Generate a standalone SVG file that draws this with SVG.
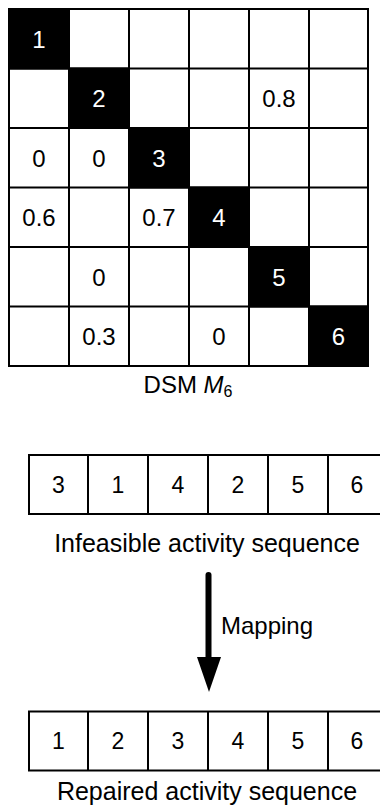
<svg xmlns="http://www.w3.org/2000/svg" width="380" height="807" viewBox="0 0 380 807">
  <style>
    text { font-family: "Liberation Sans", Arial, sans-serif; fill: #000; }
    .cell { fill: #fff; stroke: #000; stroke-width: 2; }
    .diag { fill: #000; stroke: #000; stroke-width: 2; }
    .num { font-size: 24px; text-anchor: middle; }
    .inv { fill: #fff; }
    .seq { font-size: 23px; text-anchor: middle; }
    .label { font-size: 25px; text-anchor: middle; }
  </style>
  <rect width="380" height="807" fill="#fff"/>

  <!-- DSM matrix -->
  <g id="dsm">
    <rect class="cell" x="9" y="9" width="359" height="357"/>
    <g stroke="#000" stroke-width="2">
      <line x1="69" y1="9" x2="69" y2="366"/>
      <line x1="129" y1="9" x2="129" y2="366"/>
      <line x1="189" y1="9" x2="189" y2="366"/>
      <line x1="249" y1="9" x2="249" y2="366"/>
      <line x1="309" y1="9" x2="309" y2="366"/>
      <line x1="9" y1="68.5" x2="368" y2="68.5"/>
      <line x1="9" y1="128" x2="368" y2="128"/>
      <line x1="9" y1="187.5" x2="368" y2="187.5"/>
      <line x1="9" y1="247" x2="368" y2="247"/>
      <line x1="9" y1="306.5" x2="368" y2="306.5"/>
    </g>
    <rect class="diag" x="9" y="9" width="60" height="59.5"/>
    <rect class="diag" x="69" y="68.5" width="60" height="59.5"/>
    <rect class="diag" x="129" y="128" width="60" height="59.5"/>
    <rect class="diag" x="189" y="187.5" width="60" height="59.5"/>
    <rect class="diag" x="249" y="247" width="60" height="59.5"/>
    <rect class="diag" x="309" y="306.5" width="59" height="59.5"/>
    <text class="num inv" x="39" y="47.5">1</text>
    <text class="num inv" x="99" y="107">2</text>
    <text class="num inv" x="159" y="166.5">3</text>
    <text class="num inv" x="219" y="226">4</text>
    <text class="num inv" x="279" y="285.5">5</text>
    <text class="num inv" x="338.5" y="345">6</text>
    <text class="num" x="279" y="107">0.8</text>
    <text class="num" x="39" y="166.5">0</text>
    <text class="num" x="99" y="166.5">0</text>
    <text class="num" x="39" y="226">0.6</text>
    <text class="num" x="159" y="226">0.7</text>
    <text class="num" x="99" y="285.5">0</text>
    <text class="num" x="99" y="345">0.3</text>
    <text class="num" x="219" y="345">0</text>
    <text x="188" y="393" font-size="24" text-anchor="middle">DSM <tspan font-style="italic">M</tspan><tspan font-size="16" dy="4">6</tspan></text>
  </g>

  <!-- Infeasible sequence -->
  <g id="infeasible">
    <rect class="cell" x="29" y="455" width="359" height="59"/>
    <g stroke="#000" stroke-width="2">
      <line x1="88" y1="455" x2="88" y2="514"/>
      <line x1="148" y1="455" x2="148" y2="514"/>
      <line x1="208" y1="455" x2="208" y2="514"/>
      <line x1="268" y1="455" x2="268" y2="514"/>
      <line x1="328" y1="455" x2="328" y2="514"/>
    </g>
    <text class="seq" x="58.5" y="492.5">3</text>
    <text class="seq" x="118" y="492.5">1</text>
    <text class="seq" x="178" y="492.5">4</text>
    <text class="seq" x="238" y="492.5">2</text>
    <text class="seq" x="298" y="492.5">5</text>
    <text class="seq" x="357" y="492.5">6</text>
    <text class="label" x="207" y="551.5">Infeasible activity sequence</text>
  </g>

  <!-- Mapping arrow -->
  <g id="connectors">
    <line x1="208.5" y1="575" x2="208.5" y2="660" stroke="#000" stroke-width="6" stroke-linecap="round"/>
    <polygon points="197,657 221,657 209,692" fill="#000"/>
    <text x="221" y="634" font-size="24">Mapping</text>
  </g>

  <!-- Repaired sequence -->
  <g id="repaired">
    <rect class="cell" x="29" y="711.5" width="359" height="59"/>
    <g stroke="#000" stroke-width="2">
      <line x1="88" y1="711.5" x2="88" y2="770.5"/>
      <line x1="148" y1="711.5" x2="148" y2="770.5"/>
      <line x1="208" y1="711.5" x2="208" y2="770.5"/>
      <line x1="268" y1="711.5" x2="268" y2="770.5"/>
      <line x1="328" y1="711.5" x2="328" y2="770.5"/>
    </g>
    <text class="seq" x="58.5" y="749">1</text>
    <text class="seq" x="118" y="749">2</text>
    <text class="seq" x="178" y="749">3</text>
    <text class="seq" x="238" y="749">4</text>
    <text class="seq" x="298" y="749">5</text>
    <text class="seq" x="357" y="749">6</text>
    <text class="label" x="207" y="800">Repaired activity sequence</text>
  </g>
</svg>
